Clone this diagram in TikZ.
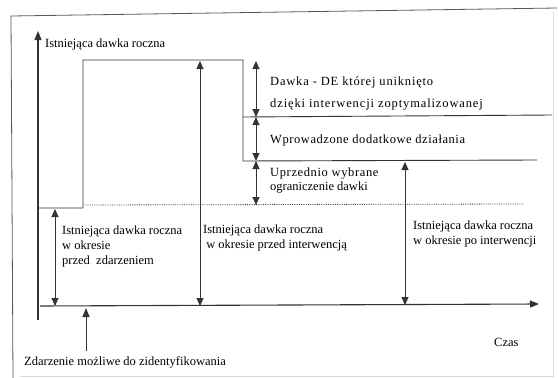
\documentclass[tikz,border=0pt]{standalone}
\usepackage{fontspec}
\setmainfont{Liberation Serif}
\usetikzlibrary{arrows.meta}
\newcommand{\spaced}[2]{{\addfontfeature{LetterSpace=#1}#2}}
\begin{document}
\begin{tikzpicture}[x=1pt,y=-1pt,
  ink/.style={draw=black!80, line width=0.9pt},
  axis/.style={draw=black!80, line width=1.1pt, -{Triangle[length=9pt,width=7pt]}},
  span/.style={draw=black!80, line width=0.9pt,
    {Triangle[length=8pt,width=7pt]}-{Triangle[length=8pt,width=7pt]}},
  point/.style={draw=black!80, line width=0.9pt, -{Triangle[length=9pt,width=7pt]}},
  lbl/.style={font=\fontsize{12.5}{15}\selectfont, text=black, inner sep=0pt, anchor=west, align=left},
  frame/.style={draw=black!65, line width=0.8pt}]
\useasboundingbox (0,0) rectangle (558,378);
% outer frame
\draw[frame] (13,378) -- (11,16) -- (557,8);
\draw[draw=black!15, line width=0.6pt] (553,12) -- (553,376) -- (20,376);

% axes
\coordinate (yo) at (38,320);
\coordinate (ytop) at (38,31);
\coordinate (xo) at (40,306);
\coordinate (xend) at (539,304);
\draw[axis] (yo) -- (ytop);
\draw[axis] (xo) -- (xend);
\node[lbl] (ylab) at (45,44) {Istniejąca dawka roczna};
\node[lbl] (czas) at (494,342) {Czas};

% dose profile over time
\coordinate (s0) at (39,208);
\coordinate (s1) at (83,208);
\coordinate (s2) at (83,60);
\coordinate (s3) at (243,60);
\coordinate (s4) at (243,161);
\coordinate (s5) at (537,160);
\coordinate (o1) at (243,117);
\coordinate (o2) at (552,115);
\draw[ink] (s0) -- (s1) -- (s2) -- (s3) -- (s4) -- (s5);
\draw[ink] (o1) -- (o2);
% previously chosen dose constraint
\coordinate (d0) at (85,205);
\coordinate (d1) at (523,204);
\draw[draw=black!75, line width=0.8pt, densely dotted] (d0) -- (d1);

% spans
\coordinate (a1t) at (55,209);
\coordinate (a1b) at (55,306);
\draw[span] (a1t) -- (a1b);
\node[lbl] (t1) at (62,246) {Istniejąca dawka roczna\\w okresie\\przed\ \ zdarzeniem};

\coordinate (a2t) at (200,61);
\coordinate (a2b) at (200,306);
\draw[span] (a2t) -- (a2b);
\node[lbl] (t2) at (203,238) {Istniejąca dawka roczna\\\ w okresie przed interwencją};

\coordinate (a3a) at (256,61);
\coordinate (a3b) at (256,117);
\coordinate (a3c) at (256,161);
\coordinate (a3d) at (256,205);
\draw[span] (a3a) -- (a3b);
\draw[span] (a3b) -- (a3c);
\draw[span] (a3c) -- (a3d);
\node[lbl] (t3a) at (270,82) {\spaced{6.5}{Dawka - DE której uniknięto}};
\node[lbl] (t3b) at (270,105) {\spaced{7}{dzięki interwencji zoptymalizowanej}};
\node[lbl] (t4) at (270,140) {\spaced{4.5}{Wprowadzone dodatkowe działania}};
\node[lbl, font=\fontsize{12.5}{14}\selectfont] (t5) at (270,181) {\spaced{5}{Uprzednio wybrane}\\ograniczenie dawki};

\coordinate (a4t) at (405,162);
\coordinate (a4b) at (405,305);
\draw[span] (a4t) -- (a4b);
\node[lbl] (t6) at (413,234) {Istniejąca dawka roczna\\w okresie po interwencji};

% event marker
\coordinate (ev0) at (86,351);
\coordinate (ev1) at (86,308);
\draw[point] (ev0) -- (ev1);
\node[lbl] (t7) at (24,362) {Zdarzenie możliwe do zidentyfikowania};
\end{tikzpicture}
\end{document}
